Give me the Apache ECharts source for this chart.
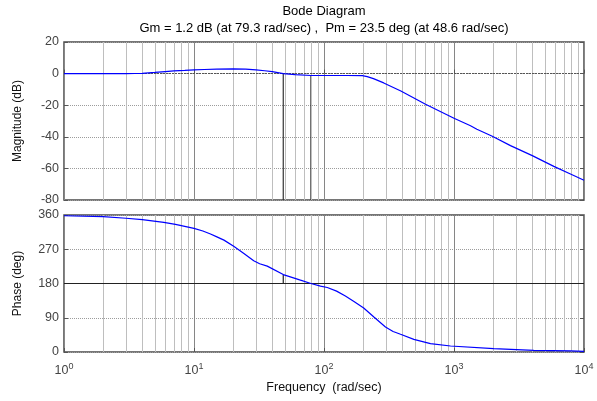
<!DOCTYPE html>
<html>
<head>
<meta charset="utf-8">
<script src="https://cdn.jsdelivr.net/npm/echarts@6/dist/echarts.min.js"></script>
<style>
  html, body { margin: 0; padding: 0; background: #ffffff; }
  #chart { width: 597px; height: 401px; }
</style>
</head>
<body>
<div id="chart"></div>
<script>
// Open-loop frequency response: magnitude (dB) and phase (deg) vs frequency (rad/sec)
const freqMag = [1, 2, 3, 3.5, 4, 5, 6, 7, 8.5, 10, 12, 15, 20, 25, 30, 35, 40, 48.6, 60, 79.3, 100, 150, 197, 215, 240, 288, 390, 604, 1000, 1340, 1500, 1970, 2720, 4000, 5860, 7870, 10000];
const magDb   = [0, 0, 0, 0.05, 0.2, 0.8, 1.3, 1.7, 2.0, 2.3, 2.6, 2.85, 3.0, 2.8, 2.3, 1.8, 1.3, 0, -0.7, -1.2, -1.2, -1.2, -1.3, -1.9, -3.2, -5.9, -11.0, -19.4, -28.3, -33.0, -35.2, -39.7, -45.6, -51.9, -58.7, -63.5, -67.5];

const freqPhase = [1, 2, 3, 4, 5.86, 7.2, 10, 11.7, 13.4, 15, 17, 20.2, 24.2, 28.8, 32, 36.6, 48.6, 65, 79.3, 94, 106, 125, 146, 170, 202, 242, 297, 340, 388, 491, 659, 940, 2020, 4110, 7870, 10000];
const phaseDeg  = [358, 355.5, 351.5, 347.6, 340.8, 335.5, 325, 318, 310, 302.5, 294, 278, 259, 240, 232, 225.6, 203.5, 189.5, 180, 173, 169.5, 160, 147.4, 133, 115.8, 92, 65.8, 54, 46.5, 33.3, 21.9, 15.8, 8.8, 4.4, 3, 1.5];

// Stability margins
const gainMarginDb = 1.2, gainCrossW = 79.3;
const phaseMarginDeg = 23.5, phaseCrossW = 48.6;

// Axis ranges
const freqRange = [1, 10000];
const magRange = [-80, 20], magStep = 20;
const phaseRange = [0, 360], phaseStep = 90;

const titleText = 'Bode Diagram';
const subtitleText = 'Gm = 1.2 dB (at 79.3 rad/sec) ,  Pm = 23.5 deg (at 48.6 rad/sec)';

const FONT = 'Liberation Sans, Arial, sans-serif';

// minor log gridlines: 2..9 within each decade
const minorFreqs = [];
for (let d = 1; d < freqRange[1]; d *= 10) {
  for (let m = 2; m <= 9; m++) minorFreqs.push(m * d);
}

const pairs = (xs, ys) => xs.map((x, i) => [x, ys[i]]);

const chart = echarts.init(document.getElementById('chart'), null, { renderer: 'canvas' });

const PLOT_LEFT = 64, PLOT_RIGHT = 13;
const gridBox = [
  { left: PLOT_LEFT, right: PLOT_RIGHT, top: 42, height: 158 },
  { left: PLOT_LEFT, right: PLOT_RIGHT, top: 215, height: 137 }
];
const plotCenterX = PLOT_LEFT + (597 - PLOT_LEFT - PLOT_RIGHT) / 2;

function xAxisFor(gridIndex, showLabels) {
  return {
    type: 'log', logBase: 10, gridIndex,
    min: freqRange[0], max: freqRange[1],
    axisLine: { show: false },
    axisTick: { show: true, inside: true, length: 4, lineStyle: { color: '#555' } },
    axisLabel: {
      show: showLabels, margin: 10, color: '#444',
      formatter: v => '{b|10}{s|' + Math.round(Math.log10(v)) + '}',
      rich: {
        b: { fontSize: 12.5, fontFamily: FONT, color: '#444' },
        s: { fontSize: 9, fontFamily: FONT, color: '#444', padding: [0, 0, 9, 0] }
      }
    },
    splitLine: { show: true, lineStyle: { color: '#868686', width: 1 } },
    name: showLabels ? 'Frequency  (rad/sec)' : '',
    nameLocation: 'middle', nameGap: 29,
    nameTextStyle: { fontSize: 12.5, fontFamily: FONT, color: '#111' }
  };
}

function yAxisFor(gridIndex, range, step, name, left) {
  return {
    type: 'value', gridIndex, min: range[0], max: range[1], interval: step,
    position: left ? 'left' : 'right',
    axisLine: { show: false },
    axisTick: { show: true, inside: true, length: 4, lineStyle: { color: '#555' } },
    axisLabel: { show: left, color: '#444', fontSize: 12.5, fontFamily: FONT, margin: 5 },
    splitLine: { show: left, lineStyle: { color: '#9c9c9c', type: [1, 1], width: 1 } },
    name: left ? name : '', nameLocation: 'middle', nameRotate: 90, nameGap: 40,
    nameTextStyle: { fontSize: 12, fontFamily: FONT, color: '#111' }
  };
}

const minorLineStyle = { color: '#bebebe', width: 1, type: 'solid' };

function gridLineSeries(xi, yi, refValue, refStyle) {
  return {
    type: 'line', xAxisIndex: xi, yAxisIndex: yi, z: 1, silent: true,
    data: [], showSymbol: false,
    markLine: {
      silent: true, symbol: 'none', animation: false,
      label: { show: false },
      lineStyle: minorLineStyle,
      data: minorFreqs.map(f => ({ xAxis: f }))
        .concat([{ yAxis: refValue, lineStyle: refStyle }])
    }
  };
}

const curveStyle = { color: '#0000ff', width: 1.2 };

const option = {
  animation: false,
  backgroundColor: '#ffffff',
  grid: gridBox.map(g => Object.assign({ show: true, borderColor: '#4a4a4a', borderWidth: 1.5, backgroundColor: 'transparent', containLabel: false }, g)),
  xAxis: [xAxisFor(0, false), xAxisFor(1, true)],
  yAxis: [
    yAxisFor(0, magRange, magStep, 'Magnitude (dB)', true),
    yAxisFor(1, phaseRange, phaseStep, 'Phase (deg)', true),
    yAxisFor(0, magRange, magStep, '', false),
    yAxisFor(1, phaseRange, phaseStep, '', false)
  ],
  graphic: [
    { type: 'text', x: plotCenterX, y: 11, style: { text: titleText, font: '13px ' + FONT, fill: '#000', textAlign: 'center', textVerticalAlign: 'middle' } },
    { type: 'text', x: plotCenterX, y: 28, style: { text: subtitleText, font: '13px ' + FONT, fill: '#000', textAlign: 'center', textVerticalAlign: 'middle' } }
  ],
  series: [
    gridLineSeries(0, 0, 0, { color: '#555', type: [2, 1], width: 1 }),
    gridLineSeries(1, 1, 180, { color: '#222', type: 'solid', width: 1 }),
    {
      name: 'Magnitude', type: 'line', xAxisIndex: 0, yAxisIndex: 0, z: 5,
      data: pairs(freqMag, magDb), showSymbol: false, smooth: false,
      lineStyle: curveStyle
    },
    {
      name: 'Phase', type: 'line', xAxisIndex: 1, yAxisIndex: 1, z: 5,
      data: pairs(freqPhase, phaseDeg), showSymbol: false, smooth: false,
      lineStyle: curveStyle
    },
    // margin markers
    {
      type: 'line', xAxisIndex: 0, yAxisIndex: 0, z: 4, showSymbol: false,
      data: [[phaseCrossW, magRange[0]], [phaseCrossW, 0]],
      lineStyle: { color: '#333', width: 1.2 }
    },
    {
      type: 'line', xAxisIndex: 0, yAxisIndex: 0, z: 4, showSymbol: false,
      data: [[gainCrossW, magRange[0]], [gainCrossW, -gainMarginDb]],
      lineStyle: { color: '#333', width: 1.2 }
    },
    {
      type: 'line', xAxisIndex: 1, yAxisIndex: 1, z: 4, showSymbol: false,
      data: [[phaseCrossW, 180], [phaseCrossW, 180 + phaseMarginDeg]],
      lineStyle: { color: '#222', width: 1.2 }
    }
  ]
};

chart.setOption(option);
</script>
</body>
</html>
